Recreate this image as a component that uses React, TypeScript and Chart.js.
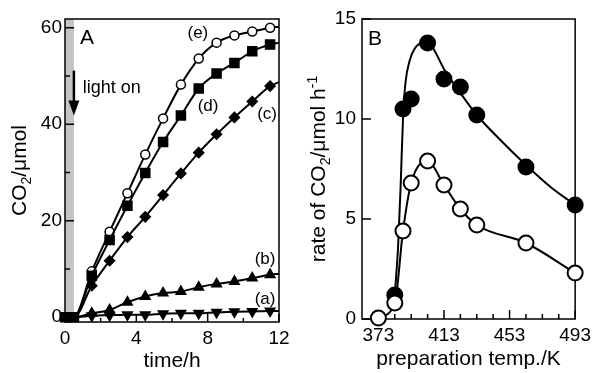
import React, { useEffect, useRef } from "react";
import { Chart, registerables } from "chart.js";
Chart.register(...registerables);

const FONT = '"Liberation Sans", Arial, Helvetica, sans-serif';

// ---------- Panel A data ----------
const timeH = [0, 0.5, 1.5, 2.5, 3.5, 4.5, 5.5, 6.5, 7.5, 8.5, 9.5, 10.5, 11.5, 12];
const seriesE = [0, 0, 9.5, 17.7, 25.7, 33.7, 41.2, 48.2, 53.6, 56.9, 58.4, 59.2, 60.0, 60.2];
const seriesD = [0, 0, 8.6, 16.0, 23.1, 29.9, 36.3, 41.8, 47.4, 50.5, 52.7, 55.1, 56.5, 56.9];
const seriesC = [0, 0, 6.5, 11.7, 16.6, 20.8, 25.3, 29.8, 34.1, 37.9, 41.4, 44.7, 47.9, 48.7];
const seriesB = [0, 0, 0.8, 1.5, 3.1, 4.3, 5.0, 5.3, 6.2, 6.9, 7.4, 8.1, 8.8, 9.0];
const seriesA = [0, 0, 0.3, 0.4, 0.5, 0.5, 0.7, 0.8, 0.8, 1.0, 1.1, 1.2, 1.3, 1.3];
const timeTicks = [0, 4, 8, 12];
const timeMinorTicks = [2, 6, 10];
const co2Ticks = [0, 20, 40, 60];
const co2MinorTicks = [10, 30, 50];
const lightBand = [0, 0.5];
const seriesLabels = ["(a)", "(b)", "(c)", "(d)", "(e)"];
const seriesLabelX = [11.22, 11.22, 11.33, 8.02, 7.45];
const seriesLabelY = [3.8, 11.9, 42.0, 43.7, 58.8];

// ---------- Panel B data ----------
const tempOpen = [373, 383, 388, 393, 403, 413, 423, 433, 463, 493];
const rateOpen = [0.05, 0.8, 4.4, 6.8, 7.9, 6.7, 5.5, 4.7, 3.8, 2.3];
const tempFilled = [383, 388, 393, 403, 413, 423, 433, 463, 493];
const rateFilled = [1.2, 10.5, 11.0, 13.8, 12.0, 11.6, 10.2, 7.6, 5.7];
const fitTemp = [383, 385, 386.5, 388, 389.5, 392, 395, 400, 404, 408, 413, 423, 433, 448, 463, 478, 493];
const fitRate = [1.2, 3.6, 6.5, 10.0, 11.8, 12.9, 13.5, 13.8, 13.8, 13.3, 12.5, 11.3, 10.2, 8.9, 7.7, 6.6, 5.7];
const tempTicks = [373, 413, 453, 493];
const tempMinorTicks = [383, 393, 403, 423, 433, 443, 463, 473, 483];
const rateTicks = [0, 5, 10, 15];

type Part = { t: string; s?: "sub" | "sup" };

function partFont(p: Part, size: number) {
  const sz = p.s ? Math.round(size * 0.66) : size;
  return `${sz}px ${FONT}`;
}

function drawRich(ctx: CanvasRenderingContext2D, parts: Part[], x: number, y: number, size: number) {
  let total = 0;
  for (const p of parts) {
    ctx.font = partFont(p, size);
    total += ctx.measureText(p.t).width;
  }
  let cx = x - total / 2;
  ctx.textAlign = "left";
  ctx.textBaseline = "alphabetic";
  for (const p of parts) {
    ctx.font = partFont(p, size);
    const dy = p.s === "sub" ? size * 0.22 : p.s === "sup" ? -size * 0.4 : 0;
    ctx.fillText(p.t, cx, y + dy);
    cx += ctx.measureText(p.t).width;
  }
}

function drawFrame(ctx: CanvasRenderingContext2D, ca: any) {
  ctx.strokeStyle = "#000";
  ctx.lineWidth = 1.5;
  ctx.strokeRect(ca.left, ca.top, ca.right - ca.left, ca.bottom - ca.top);
}

function drawXTicks(ctx: CanvasRenderingContext2D, ca: any, scale: any, vals: number[], len: number) {
  ctx.beginPath();
  for (const v of vals) {
    const px = scale.getPixelForValue(v);
    ctx.moveTo(px, ca.bottom);
    ctx.lineTo(px, ca.bottom - len);
  }
  ctx.stroke();
}

function drawYTicks(ctx: CanvasRenderingContext2D, ca: any, scale: any, vals: number[], len: number) {
  ctx.beginPath();
  for (const v of vals) {
    const py = scale.getPixelForValue(v);
    ctx.moveTo(ca.left, py);
    ctx.lineTo(ca.left + len, py);
  }
  ctx.stroke();
}

const pluginA = {
  id: "decorA",
  beforeDatasetsDraw(chart: any) {
    const { ctx, chartArea: ca } = chart;
    const x = chart.scales.x;
    const y = chart.scales.y;
    ctx.save();
    const b0 = x.getPixelForValue(lightBand[0]);
    const b1 = x.getPixelForValue(lightBand[1]);
    ctx.fillStyle = "#c4c4c4";
    ctx.fillRect(b0, ca.top, b1 - b0, ca.bottom - ca.top);
    drawFrame(ctx, ca);
    ctx.lineWidth = 1.5;
    drawXTicks(ctx, ca, x, timeTicks, 8);
    drawXTicks(ctx, ca, x, timeMinorTicks, 4);
    drawYTicks(ctx, ca, y, co2Ticks, 9);
    drawYTicks(ctx, ca, y, co2MinorTicks, 5);
    ctx.restore();
  },
  afterDraw(chart: any) {
    const { ctx, chartArea: ca } = chart;
    const x = chart.scales.x;
    const y = chart.scales.y;
    ctx.save();
    ctx.fillStyle = "#000";
    // panel letter
    ctx.font = `21px ${FONT}`;
    ctx.textAlign = "left";
    ctx.textBaseline = "alphabetic";
    ctx.fillText("A", x.getPixelForValue(0.84), y.getPixelForValue(56.7));
    // light on
    ctx.font = `18px ${FONT}`;
    ctx.textBaseline = "middle";
    ctx.fillText("light on", x.getPixelForValue(1.0), y.getPixelForValue(47.4));
    // arrow
    const ax = x.getPixelForValue(0.5);
    const ay0 = y.getPixelForValue(51.1);
    const ay1 = y.getPixelForValue(41.8);
    ctx.strokeStyle = "#000";
    ctx.lineWidth = 2.5;
    ctx.beginPath();
    ctx.moveTo(ax, ay0);
    ctx.lineTo(ax, ay1 - 12);
    ctx.stroke();
    ctx.beginPath();
    ctx.moveTo(ax - 5.5, ay1 - 15);
    ctx.lineTo(ax + 5.5, ay1 - 15);
    ctx.lineTo(ax, ay1);
    ctx.closePath();
    ctx.fill();
    // series labels
    ctx.font = `17px ${FONT}`;
    ctx.textAlign = "center";
    ctx.textBaseline = "middle";
    seriesLabels.forEach((s, i) => {
      ctx.fillText(s, x.getPixelForValue(seriesLabelX[i]), y.getPixelForValue(seriesLabelY[i]));
    });
    // axis titles
    drawRich(ctx, [{ t: "time/h" }], (ca.left + ca.right) / 2, ca.bottom + 45, 21);
    ctx.translate(ca.left - 39, (ca.top + ca.bottom) / 2);
    ctx.rotate(-Math.PI / 2);
    drawRich(ctx, [{ t: "CO" }, { t: "2", s: "sub" }, { t: "/μmol" }], 0, 0, 21);
    ctx.restore();
  },
};

const pluginB = {
  id: "decorB",
  beforeDatasetsDraw(chart: any) {
    const { ctx, chartArea: ca } = chart;
    const x = chart.scales.x;
    const y = chart.scales.y;
    ctx.save();
    drawFrame(ctx, ca);
    ctx.lineWidth = 1.5;
    drawXTicks(ctx, ca, x, tempTicks, 9);
    drawXTicks(ctx, ca, x, tempMinorTicks, 5);
    drawYTicks(ctx, ca, y, rateTicks, 9);
    ctx.restore();
  },
  afterDraw(chart: any) {
    const { ctx, chartArea: ca } = chart;
    const x = chart.scales.x;
    const y = chart.scales.y;
    ctx.save();
    ctx.fillStyle = "#000";
    ctx.font = `21px ${FONT}`;
    ctx.textAlign = "left";
    ctx.textBaseline = "alphabetic";
    ctx.fillText("B", x.getPixelForValue(366.6), y.getPixelForValue(13.7));
    drawRich(ctx, [{ t: "preparation temp./K" }], (ca.left + ca.right) / 2, ca.bottom + 46, 21);
    ctx.translate(ca.left - 37, (ca.top + ca.bottom) / 2);
    ctx.rotate(-Math.PI / 2);
    drawRich(
      ctx,
      [{ t: "rate of CO" }, { t: "2", s: "sub" }, { t: "/μmol h" }, { t: "-1", s: "sup" }],
      0,
      0,
      21
    );
    ctx.restore();
  },
};

function lineSeries(vals: number[], style: string, r: number, fill: string, showStart: boolean, order: number, rotation = 0) {
  return {
    data: timeH.map((t, i) => ({ x: t, y: vals[i] })),
    borderColor: "#000",
    borderWidth: 2,
    pointStyle: style,
    pointRotation: rotation,
    pointRadius: timeH.map((t) => (t === 12 || (!showStart && t <= 0.5) ? 0 : r)),
    pointBackgroundColor: fill,
    pointBorderColor: "#000",
    pointBorderWidth: 1.5,
    cubicInterpolationMode: "monotone",
    clip: false,
    order,
  };
}

function axisCommon(min: number, max: number, ticks: number[], pad: number) {
  return {
    type: "linear",
    min,
    max,
    grid: { display: false, drawTicks: false },
    border: { display: false },
    afterBuildTicks: (s: any) => {
      s.ticks = ticks.map((v) => ({ value: v }));
    },
    ticks: { padding: pad, color: "#000", font: { size: 19, family: FONT }, maxRotation: 0, autoSkip: false },
  };
}

export default function App() {
  const refA = useRef<HTMLCanvasElement>(null);
  const refB = useRef<HTMLCanvasElement>(null);

  useEffect(() => {
    Chart.defaults.font.family = FONT;
    Chart.defaults.color = "#000";

    const chartA = new Chart(refA.current as HTMLCanvasElement, {
      type: "line",
      data: {
        datasets: [
          lineSeries(seriesD, "rect", 6.4, "#000", true, 0),
          lineSeries(seriesE, "circle", 4.5, "#fff", false, 1),
          lineSeries(seriesC, "rectRot", 5, "#000", false, 2),
          lineSeries(seriesB, "triangle", 5.5, "#000", false, 3),
          lineSeries(seriesA, "triangle", 5.5, "#000", false, 4, 180),
        ] as any,
      },
      options: {
        animation: false,
        responsive: false,
        layout: { padding: { top: 19, right: 19, left: 0, bottom: 0 } },
        plugins: { legend: { display: false }, tooltip: { enabled: false } },
        scales: {
          x: { ...axisCommon(0, 12, timeTicks, 5), afterFit: (s: any) => { s.height = 51; } },
          y: { ...axisCommon(-1, 61.8, co2Ticks, 3), afterFit: (s: any) => { s.width = 65; } },
        } as any,
      },
      plugins: [pluginA],
    });

    const chartB = new Chart(refB.current as HTMLCanvasElement, {
      type: "line",
      data: {
        datasets: [
          {
            data: tempOpen.map((t, i) => ({ x: t, y: rateOpen[i] })),
            borderColor: "#000",
            borderWidth: 2,
            pointStyle: "circle",
            pointRadius: 7.5,
            pointBackgroundColor: "#fff",
            pointBorderColor: "#000",
            pointBorderWidth: 2,
            cubicInterpolationMode: "monotone",
            clip: false,
            order: 0,
          },
          {
            data: tempFilled.map((t, i) => ({ x: t, y: rateFilled[i] })),
            showLine: false,
            pointStyle: "circle",
            pointRadius: 7.5,
            pointBackgroundColor: "#000",
            pointBorderColor: "#000",
            pointBorderWidth: 2,
            clip: false,
            order: 1,
          },
          {
            data: fitTemp.map((t, i) => ({ x: t, y: fitRate[i] })),
            borderColor: "#000",
            borderWidth: 2,
            pointRadius: 0,
            cubicInterpolationMode: "monotone",
            clip: false,
            order: 2,
          },
        ] as any,
      },
      options: {
        animation: false,
        responsive: false,
        layout: { padding: { top: 19, right: 17, left: 0, bottom: 0 } },
        plugins: { legend: { display: false }, tooltip: { enabled: false } },
        scales: {
          x: { ...axisCommon(363, 493, tempTicks, 5), afterFit: (s: any) => { s.height = 54; } },
          y: { ...axisCommon(0, 15, rateTicks, 6), afterFit: (s: any) => { s.width = 64; } },
        } as any,
      },
      plugins: [pluginB],
    });

    return () => {
      chartA.destroy();
      chartB.destroy();
    };
  }, []);

  return (
    <div style={{ position: "fixed", left: 0, top: 0, width: 596, height: 373, background: "#fff" }}>
      <canvas
        ref={refA}
        width={298}
        height={373}
        style={{ position: "absolute", left: 0, top: 0, width: 298, height: 373 }}
      />
      <canvas
        ref={refB}
        width={298}
        height={373}
        style={{ position: "absolute", left: 298, top: 0, width: 298, height: 373 }}
      />
    </div>
  );
}
